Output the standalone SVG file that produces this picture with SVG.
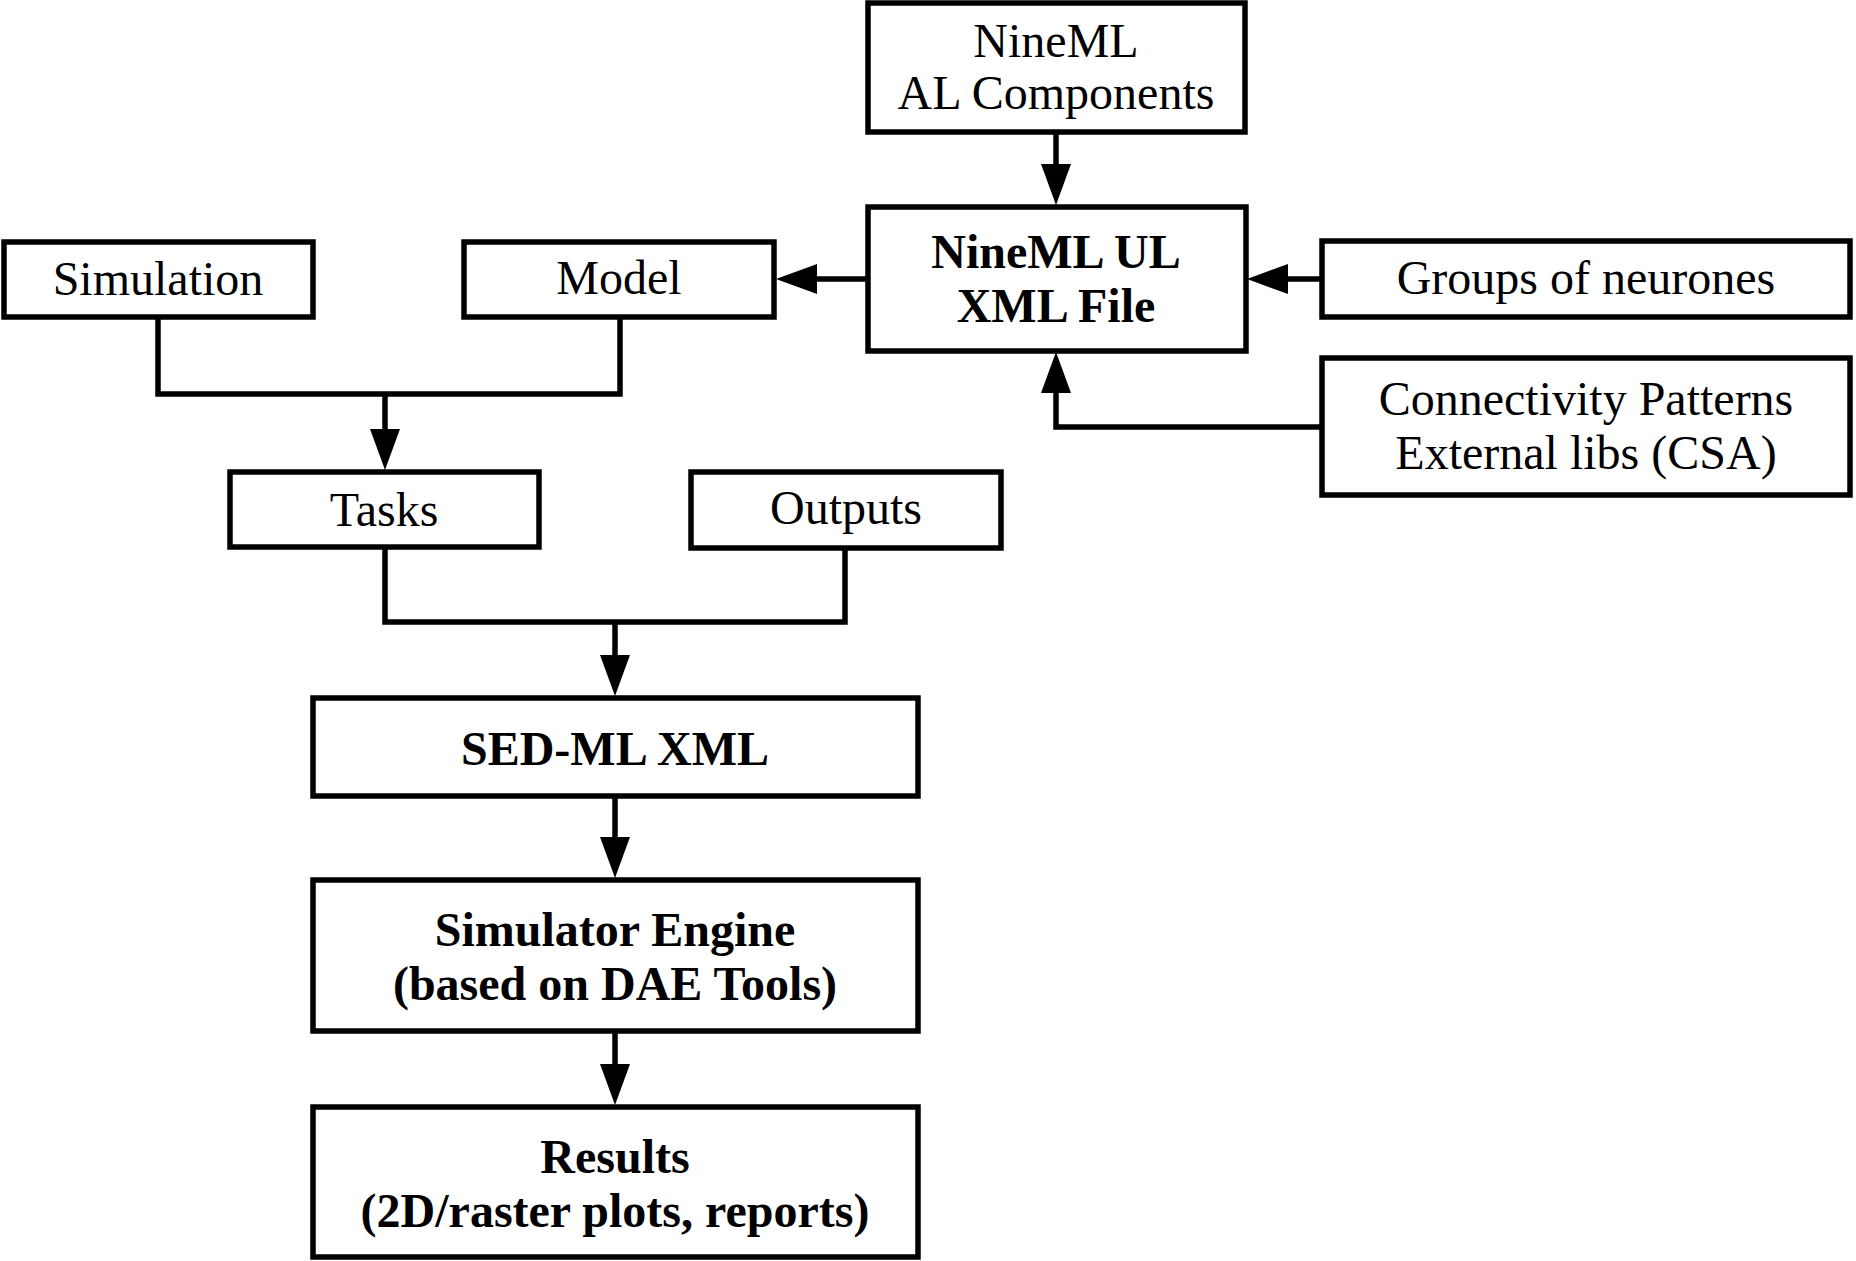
<svg xmlns="http://www.w3.org/2000/svg" width="1856" height="1261" viewBox="0 0 1856 1261">
<style>
.box{fill:#fff;stroke:#000;stroke-width:5.5;stroke-linejoin:miter}
.t{font-family:"Liberation Serif","Times New Roman",serif;font-size:48px;fill:#000;text-anchor:middle}
.b{font-weight:bold}
.c{fill:none;stroke:#000;stroke-width:5.5;stroke-linejoin:miter;stroke-linecap:butt}
</style>
<defs>
<marker id="ah" markerUnits="userSpaceOnUse" markerWidth="41" markerHeight="30" refX="0" refY="15" orient="auto" viewBox="0 0 41 30">
<path d="M0,0 L41,15 L0,30 Z" fill="#000"/>
</marker>
</defs>
<rect width="1856" height="1261" fill="#fff"/>
<g id="connectors">
<path class="c" d="M1056,132 V164" marker-end="url(#ah)"/>
<path class="c" d="M868,279 H817" marker-end="url(#ah)"/>
<path class="c" d="M1322,279 H1288" marker-end="url(#ah)"/>
<path class="c" d="M1322,427 H1056 V393" marker-end="url(#ah)"/>
<path class="c" d="M158,317 V394 H620 V317"/>
<path class="c" d="M385,394 V429" marker-end="url(#ah)"/>
<path class="c" d="M385,547 V622 H845 V548"/>
<path class="c" d="M615,622 V655" marker-end="url(#ah)"/>
<path class="c" d="M615,796 V837" marker-end="url(#ah)"/>
<path class="c" d="M615,1031 V1064" marker-end="url(#ah)"/>
</g>
<g id="al-components">
<rect class="box" x="868" y="3" width="377" height="129"/>
<text class="t" x="1056" y="57">NineML</text>
<text class="t" x="1056" y="109">AL Components</text>
</g>
<g id="ul-xml">
<rect class="box" x="868" y="207" width="378" height="144"/>
<text class="t b" x="1056" y="268">NineML UL</text>
<text class="t b" x="1056" y="322">XML File</text>
</g>
<g id="groups">
<rect class="box" x="1322" y="241" width="528" height="76"/>
<text class="t" x="1586" y="294">Groups of neurones</text>
</g>
<g id="connectivity">
<rect class="box" x="1322" y="358" width="528" height="137"/>
<text class="t" x="1586" y="415">Connectivity Patterns</text>
<text class="t" x="1586" y="469">External libs (CSA)</text>
</g>
<g id="simulation">
<rect class="box" x="4" y="242" width="309" height="75"/>
<text class="t" x="158" y="295">Simulation</text>
</g>
<g id="model">
<rect class="box" x="464" y="242" width="310" height="75"/>
<text class="t" x="619" y="294">Model</text>
</g>
<g id="tasks">
<rect class="box" x="230" y="472" width="309" height="75"/>
<text class="t" x="384" y="526">Tasks</text>
</g>
<g id="outputs">
<rect class="box" x="691" y="472" width="310" height="76"/>
<text class="t" x="846" y="524">Outputs</text>
</g>
<g id="sedml">
<rect class="box" x="313" y="698" width="605" height="98"/>
<text class="t b" x="615" y="765">SED-ML XML</text>
</g>
<g id="engine">
<rect class="box" x="313" y="880" width="605" height="151"/>
<text class="t b" x="615" y="946">Simulator Engine</text>
<text class="t b" x="615" y="1000">(based on DAE Tools)</text>
</g>
<g id="results">
<rect class="box" x="313" y="1107" width="605" height="150"/>
<text class="t b" x="615" y="1173">Results</text>
<text class="t b" x="615" y="1227">(2D/raster plots, reports)</text>
</g>
</svg>
